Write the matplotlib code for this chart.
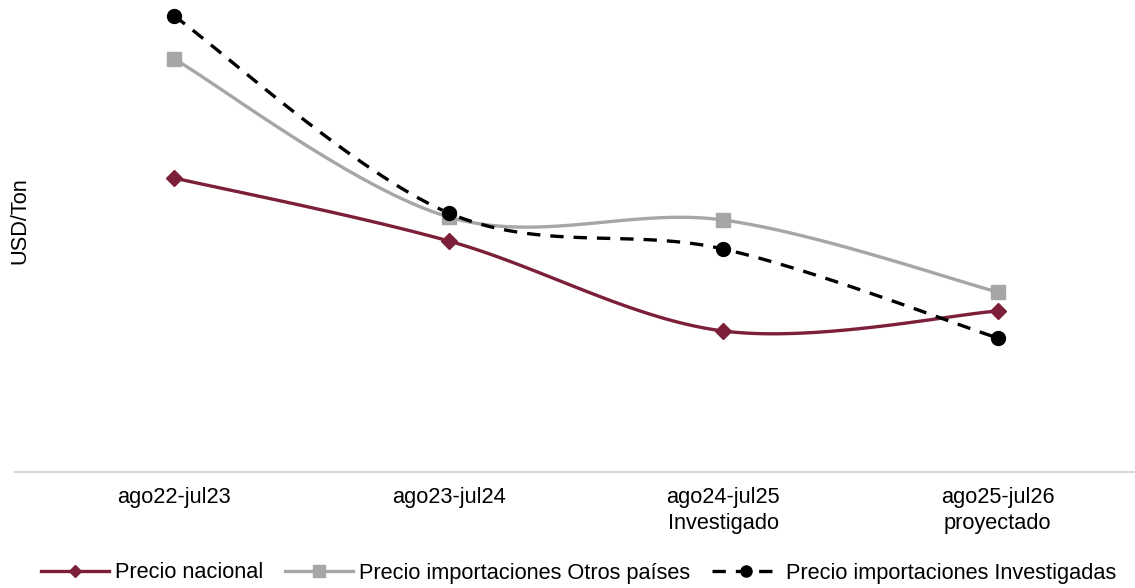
import numpy as np
import matplotlib.pyplot as plt
from matplotlib.lines import Line2D

plt.rcParams['font.family'] = ['Liberation Sans', 'DejaVu Sans']

# ------------------------------------------------------------------------------
# data (no y ticks in the original, values read in relative units)

periodos = ['ago22-jul23', 'ago23-jul24', 'ago24-jul25\nInvestigado', 'ago25-jul26\nproyectado']
precio_nacional = [588, 462, 282, 322]
precio_otros = [826, 510, 504, 360]
precio_investigadas = [912, 518, 446, 268]


def smooth(x, y, n=40):
    '''Excel-style smoothed line: cubic bezier between points, control points from neighbours'''
    x = np.asarray(x, float)
    y = np.asarray(y, float)
    pts = np.column_stack([x, y])
    out = []
    for i in range(len(pts) - 1):
        p0 = pts[i - 1] if i > 0 else pts[i]
        p1 = pts[i]
        p2 = pts[i + 1]
        p3 = pts[i + 2] if i + 2 < len(pts) else pts[i + 1]
        c1 = p1 + (p2 - p0) / 6.0
        c2 = p2 - (p3 - p1) / 6.0
        t = np.linspace(0, 1, n)[:, None]
        seg = ((1 - t) ** 3) * p1 + 3 * ((1 - t) ** 2) * t * c1 + 3 * (1 - t) * t ** 2 * c2 + t ** 3 * p2
        out.append(seg if i == 0 else seg[1:])
    out = np.vstack(out)
    return out[:, 0], out[:, 1]


# ------------------------------------------------------------------------------

fs = 15.7
fig = plt.figure(figsize=(11.35, 5.88), dpi=100)
ax = fig.add_axes([15 / 1135, 1 - 472 / 588, 1120 / 1135, 472 / 588])

xs = np.arange(len(periodos))
series = [
    (precio_nacional, '#7B2038', 'D', 8, '-', 'Precio nacional'),
    (precio_otros, '#A6A6A6', 's', 10, '-', 'Precio importaciones Otros países'),
    (precio_investigadas, 'black', 'o', 10, (0, (4, 3)), 'Precio importaciones Investigadas'),
]
handles = []
for vals, col, mk, ms, ls, lab in series:
    sx, sy = smooth(xs, vals)
    ax.plot(sx, sy, color=col, lw=2.4, ls=ls, zorder=2)
    ax.plot(xs, vals, ls='none', marker=mk, ms=ms, color=col, zorder=3)
    handles.append(Line2D([0], [0], color=col, lw=2.4, ls=ls, marker=mk, ms=ms * 0.8, label=lab))

ax.set_xlim(-0.58, 3.5)
ax.set_ylim(0, 944)
ax.set_xticks(xs)
ax.set_xticklabels(periodos, fontsize=fs, linespacing=1.3)
ax.tick_params(axis='x', length=0, pad=11)
ax.set_yticks([])
for s in ['top', 'right', 'left']:
    ax.spines[s].set_visible(False)
ax.spines['bottom'].set_color('#D9D9D9')
ax.spines['bottom'].set_linewidth(1.5)

fig.text(20 / 1135, 1 - 221 / 588, 'USD/Ton', rotation=90, fontsize=fs, ha='center', va='center')

fig.legend(handles=handles, loc='center', bbox_to_anchor=(0.51, 1 - 573 / 588), ncol=3,
           frameon=False, fontsize=fs, handlelength=3.1, handletextpad=0.3, columnspacing=1.0)

plt.savefig('out.png')
